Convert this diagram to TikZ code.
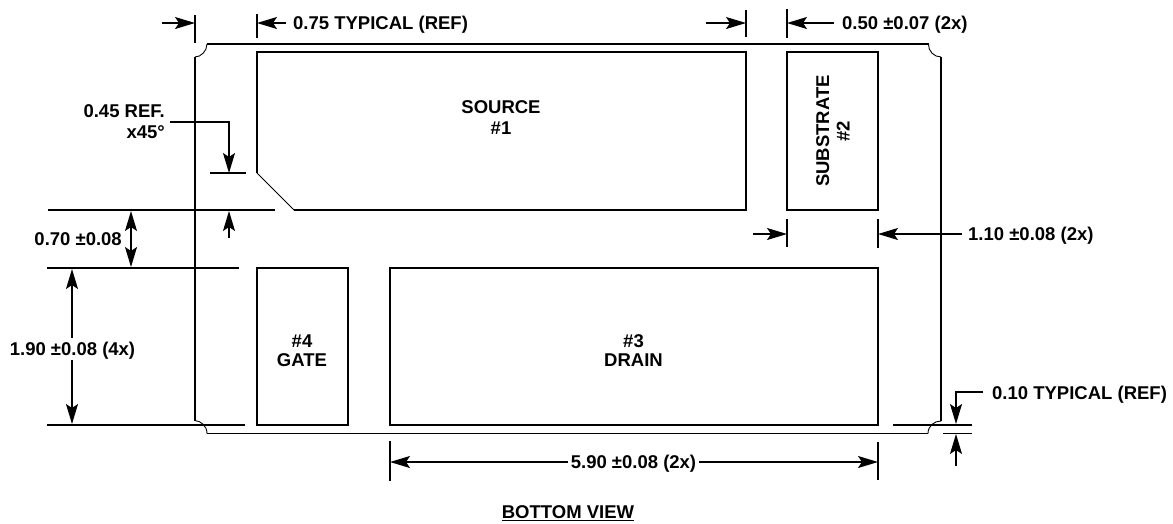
\documentclass[tikz,border=0pt]{standalone}
\usepackage{fontspec}
\setmainfont{Liberation Sans}
\usetikzlibrary{arrows.meta}
\tikzset{
  every picture/.style={x=1pt,y=-1pt},
  ln/.style={line width=1.5pt,black},
  thin line/.style={line width=0.9pt,black},
  arr/.style={ln,-{Stealth[length=20pt,width=12pt,inset=4pt]}},
  darr/.style={ln,{Stealth[length=20pt,width=12pt,inset=4pt]}-{Stealth[length=20pt,width=12pt,inset=4pt]}},
  lab/.style={font=\bfseries\fontsize{18.5}{19}\selectfont,inner sep=0pt,align=center,text=black},
  labl/.style={lab,anchor=west},
}
\begin{document}
\begin{tikzpicture}
\useasboundingbox (0,0) rectangle (1173,523);
% outline
\draw[ln] (195,57) -- (195,420.5);
\draw[thin line] (195,420.5) .. controls (201,421) and (207,426) .. (207,433.5);
\draw[ln] (207,433.5) -- (928,433.5);
\draw[thin line] (928,433.5) .. controls (928,426) and (934,421) .. (941,421);
\draw[ln] (941,421) -- (941,57);
\draw[thin line] (941,57) .. controls (934,57) and (928,51) .. (928.5,44);
\draw[ln] (928.5,44) -- (207,44);
\draw[thin line] (207,44) .. controls (207,51) and (201,57) .. (195,57);
% pads
\draw[ln] (257,173) -- (257,52) -- (746,52) -- (746,210) -- (294,210);
\draw[thin line] (294,210) -- (257,173);
\draw[ln] (787,52) rectangle (878,210);
\draw[ln] (257,268) rectangle (348,425);
\draw[ln] (390,268) rectangle (878,425);
% extension lines
\draw[ln] (48,210) -- (275,210);
\draw[ln] (47,268) -- (239,268);
\draw[ln] (47,425) -- (245,425);
\draw[ln] (893,425) -- (972,425);
\draw[ln] (943,433.5) -- (972,433.5);
\draw[ln] (210,173) -- (246,173);
\draw[ln] (195,15) -- (195,43);
\draw[ln] (257,14) -- (257,38);
\draw[ln] (746,10) -- (746,37);
\draw[ln] (787,9) -- (787,38);
\draw[ln] (787,219) -- (787,247);
\draw[ln] (878,219) -- (878,248);
\draw[ln] (390,441) -- (390,481);
\draw[ln] (878,442) -- (878,480);
% labels
\node[labl] (typ) at (293,25) {0.75 TYPICAL (REF)};
\node[labl] (lw) at (842,25) {0.50 ±0.07 (2x)};
\node[labl] (lh) at (968,236) {1.10 ±0.08 (2x)};
\node[lab,anchor=north east,align=right,font=\bfseries\fontsize{18.5}{21}\selectfont] (ch) at (165,104.5) {0.45 REF.\\x45°};
\node[lab,anchor=east] (g) at (122,239) {0.70 ±0.08};
\node[lab] (h) at (72.5,351) {1.90 ±0.08 (4x)};
\node[lab] (w) at (633.5,464) {5.90 ±0.08 (2x)};
\node[labl] (r) at (992,394.5) {0.10 TYPICAL (REF)};
\node[lab,font=\bfseries\fontsize{18.5}{21}\selectfont] (src) at (501,118) {SOURCE\\\#1};
\node[lab] (gate) at (302,351) {\#4\\GATE};
\node[lab] (drain) at (633.5,351) {\#3\\DRAIN};
\node[lab,rotate=90,font=\bfseries\fontsize{18.5}{20.5}\selectfont] (sub) at (833,131) {SUBSTRATE\\\#2};
\node[lab] (bv) at (568,513) {\underline{BOTTOM VIEW}};
% dimension arrows
\coordinate (a1) at (195,23); \coordinate (a2) at (257,23);
\coordinate (a3) at (746,23); \coordinate (a4) at (787,23);
\draw[arr] (162,23) -- (a1);
\draw[arr] (286,23) -- (a2);
\draw[arr] (706,23) -- (a3);
\draw[arr] (834,23) -- (a4);
\coordinate (b1) at (787,234); \coordinate (b2) at (878,234);
\draw[arr] (753,234) -- (b1);
\draw[arr] (962,234) -- (b2);
\coordinate (c1) at (229,173); \coordinate (c2) at (229,211);
\draw[arr] (170,122) -| (c1);
\draw[arr] (229,238) -- (c2);
\coordinate (d1) at (131,211); \coordinate (d2) at (131,267);
\draw[darr] (d1) -- (d2);
\coordinate (e1) at (72,269); \coordinate (e2) at (72,424);
\draw[arr] (72,338) -- (e1);
\draw[arr] (72,360) -- (e2);
\coordinate (f1) at (390,462); \coordinate (f2) at (878,462);
\draw[arr] (568,462) -- (f1);
\draw[arr] (699,462) -- (f2);
\coordinate (k1) at (956,424); \coordinate (k2) at (956,434);
\draw[arr] (983,392) -| (k1);
\draw[arr] (956,466) -- (k2);
\end{tikzpicture}
\end{document}
